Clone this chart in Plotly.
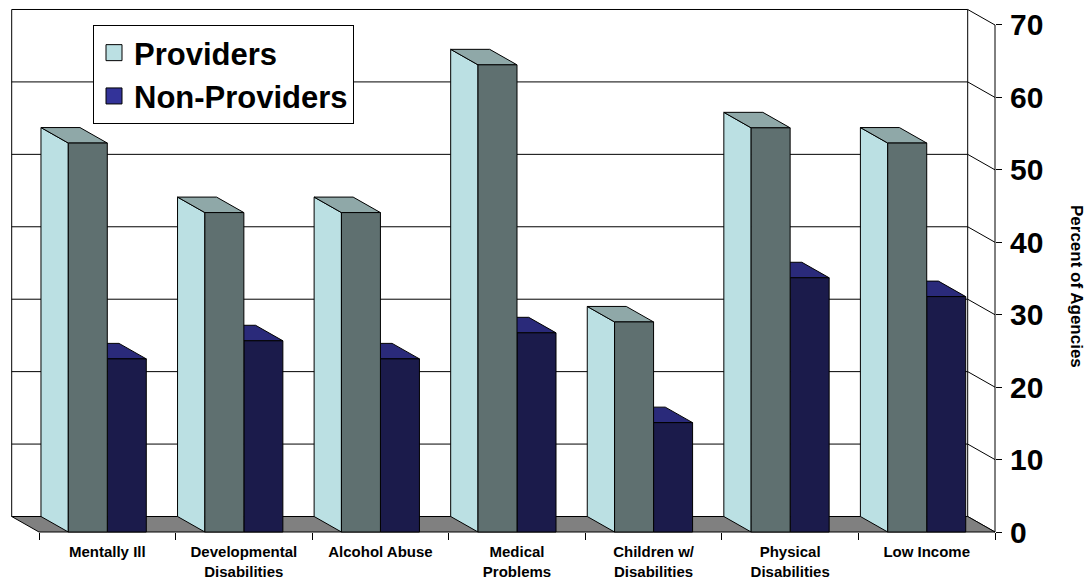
import plotly.graph_objects as go

# ---------------- data ----------------
categories = ["Mentally Ill", "Developmental<br>Disabilities", "Alcohol Abuse",
              "Medical<br>Problems", "Children w/<br>Disabilities",
              "Physical<br>Disabilities", "Low Income"]
providers = [53.7, 44.1, 44.1, 64.5, 29.0, 55.8, 53.7]
non_providers = [23.9, 26.4, 23.9, 27.5, 15.1, 35.1, 32.5]
y_ticks = [0, 10, 20, 30, 40, 50, 60, 70]
series_names = ["Providers", "Non-Providers"]
axis_title = "Percent of Agencies"

# ---------------- projection / style constants ----------------
BAR_W = 0.2856          # bar width in category units
DX, DY = -0.2, 2.14     # depth offset (category units, value units)
X_MIN, X_MAX = -0.7856, 7.1956
Y_MIN, Y_MAX = -6.903, 73.45
FONT = "Liberation Sans, Arial, sans-serif"

P_FRONT, P_TOP, P_SIDE = "#5F7070", "#8FA8A8", "#BBE0E3"
N_FRONT, N_TOP = "#1B1B4B", "#2A2A7A"
LEGEND_P, LEGEND_N = "#BBE0E3", "#333399"

n = len(categories)
x_left, x_right = -0.5, n - 0.5


def poly_trace(polys, fill, width=1):
    xs, ys = [], []
    for p in polys:
        for (a, b) in p:
            xs.append(a)
            ys.append(b)
        xs.append(None)
        ys.append(None)
    return go.Scatter(x=xs, y=ys, mode="lines", fill="toself", fillcolor=fill,
                      line=dict(color="black", width=width), showlegend=False,
                      hoverinfo="skip")


def front(x0, x1, v):
    return [(x0, 0), (x1, 0), (x1, v), (x0, v), (x0, 0)]


def top(x0, x1, v):
    return [(x0, v), (x1, v), (x1 + DX, v + DY), (x0 + DX, v + DY), (x0, v)]


def side(x0, v):
    return [(x0, 0), (x0, v), (x0 + DX, v + DY), (x0 + DX, DY), (x0, 0)]


fig = go.Figure()

# back-wall gridlines + side wall diagonals
gx, gy = [], []
for v in y_ticks:
    gx += [x_left + DX, x_right + DX, x_right, None]
    gy += [v + DY, v + DY, v, None]
# back wall vertical edges
for xe in (x_left + DX, x_right + DX):
    gx += [xe, xe, None]
    gy += [DY, y_ticks[-1] + DY, None]
fig.add_trace(go.Scatter(x=gx, y=gy, mode="lines", line=dict(color="black", width=1),
                         showlegend=False, hoverinfo="skip"))

# floor
floor = [(x_left + DX, DY), (x_right + DX, DY), (x_right, 0), (x_left, 0), (x_left + DX, DY)]
fig.add_trace(poly_trace([floor], "#808080"))

# non-provider bars (right bars, drawn first)
fig.add_trace(poly_trace([top(i, i + BAR_W, v) for i, v in enumerate(non_providers)], N_TOP))
fig.add_trace(poly_trace([front(i, i + BAR_W, v) for i, v in enumerate(non_providers)], N_FRONT))
# provider bars
fig.add_trace(poly_trace([side(i - BAR_W, v) for i, v in enumerate(providers)], P_SIDE))
fig.add_trace(poly_trace([top(i - BAR_W, i, v) for i, v in enumerate(providers)], P_TOP))
fig.add_trace(poly_trace([front(i - BAR_W, i, v) for i, v in enumerate(providers)], P_FRONT))

# front value axis line
fig.add_trace(go.Scatter(x=[x_right, x_right], y=[y_ticks[0], y_ticks[-1]], mode="lines",
                         line=dict(color="black", width=1), showlegend=False, hoverinfo="skip"))

# category axis carrier
fig.add_trace(go.Scatter(x=categories, y=[None] * n, xaxis="x2", mode="markers",
                         showlegend=False, hoverinfo="skip"))

# legend entries
for name, col in zip(series_names, [LEGEND_P, LEGEND_N]):
    fig.add_trace(go.Scatter(x=[None], y=[None], mode="markers", name=name,
                             marker=dict(symbol="square", size=16, color=col,
                                         line=dict(color="black", width=1))))

yaxis_pos = (x_right - X_MIN) / (X_MAX - X_MIN)
xaxis_pos = (0 - Y_MIN) / (Y_MAX - Y_MIN)

fig.update_layout(
    width=1090, height=582, autosize=False,
    margin=dict(l=0, r=0, t=0, b=0),
    paper_bgcolor="white", plot_bgcolor="white",
    font=dict(family=FONT, color="black"),
    xaxis=dict(domain=[0, 1], range=[X_MIN, X_MAX], visible=False, fixedrange=True),
    xaxis2=dict(type="category", categoryorder="array", categoryarray=categories,
                overlaying="x", anchor="free", position=xaxis_pos, side="bottom",
                range=[X_MIN, X_MAX], tickson="boundaries", ticks="outside", ticklen=7,
                tickcolor="black", tickwidth=1, showline=False, showgrid=False,
                zeroline=False, ticklabelstandoff=9,
                tickfont=dict(family=FONT, size=15, color="black", weight="bold")),
    yaxis=dict(domain=[0, 1], range=[Y_MIN, Y_MAX], tickvals=y_ticks,
               anchor="free", position=yaxis_pos, side="right",
               ticks="outside", ticklen=6, tickcolor="black", showgrid=False,
               zeroline=False, showline=False, fixedrange=True, ticklabelstandoff=2,
               tickfont=dict(family=FONT, size=30, color="black", weight="bold")),
    showlegend=True,
    legend=dict(x=93 / 1090, y=1 - 25 / 582, xanchor="left", yanchor="top",
                bgcolor="white", bordercolor="black", borderwidth=1,
                tracegroupgap=0, itemwidth=30,
                font=dict(family=FONT, size=31, color="black", weight="bold")),
    annotations=[dict(text=axis_title, x=1077 / 1090, y=1 - 286 / 582,
                      xref="paper", yref="paper", showarrow=False, textangle=90,
                      xanchor="center", yanchor="middle",
                      font=dict(family=FONT, size=17, color="black", weight="bold"))],
)

fig.write_html("out.html", config={"displayModeBar": False})
